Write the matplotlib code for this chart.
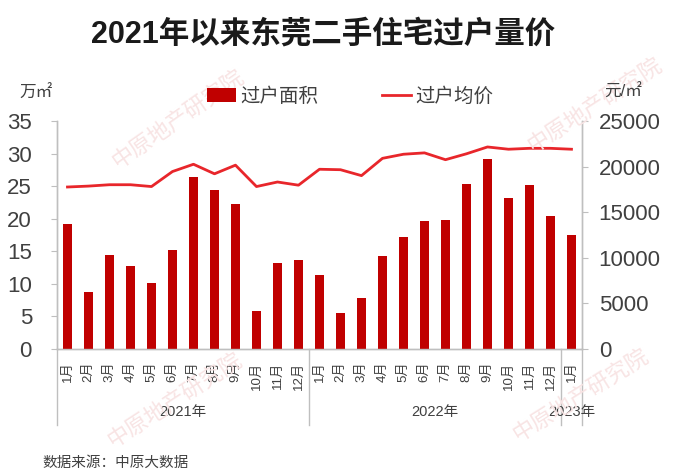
import matplotlib
matplotlib.use("Agg")
import matplotlib.pyplot as plt
from matplotlib.lines import Line2D
from matplotlib.patches import Patch
import matplotlib.transforms as mtransforms

plt.rcParams['font.family'] = ['Liberation Sans', 'Noto Sans CJK SC', 'DejaVu Sans']

# ---- data ----
months = ['1月', '2月', '3月', '4月', '5月', '6月', '7月', '8月', '9月', '10月', '11月', '12月',
          '1月', '2月', '3月', '4月', '5月', '6月', '7月', '8月', '9月', '10月', '11月', '12月',
          '1月']
years = ['2021年', '2022年', '2023年']
year_counts = [12, 12, 1]
area = [19.3, 8.8, 14.4, 12.8, 10.1, 15.2, 26.4, 24.5, 22.3, 5.8, 13.3, 13.7,
        11.4, 5.5, 7.8, 14.3, 17.2, 19.7, 19.8, 25.4, 29.3, 23.3, 25.3, 20.5,
        17.6]
price = [17800, 17900, 18050, 18050, 17850, 19500, 20300, 19250, 20200, 17850, 18350, 18000,
         19750, 19700, 19050, 20950, 21400, 21550, 20800, 21450, 22200, 21950, 22050, 22050,
         21950]

title = '2021年以来东莞二手住宅过户量价'
legend_labels = ['过户面积', '过户均价']
left_unit = '万㎡'
right_unit = '元/㎡'
source = '数据来源：中原大数据'
watermark = '中原地产研究院'

bar_color = '#C00000'
line_color = '#E8262B'
text_color = '#404040'
axis_color = '#BFBFBF'

fig = plt.figure(figsize=(7.0, 4.76), dpi=100)
fig.patch.set_facecolor('white')

# watermarks
for (wx, wy, rot) in [(0.255, 0.75, 35), (0.85, 0.78, 33), (0.25, 0.16, 33), (0.83, 0.17, 32)]:
    fig.text(wx, wy, watermark, fontsize=16, color='#F8E4E4', rotation=rot,
             ha='center', va='center', zorder=0, family=['Noto Sans CJK SC'])

ax = fig.add_axes([0.0814, 0.2668, 0.75, 0.478])
ax.patch.set_alpha(0)
ax2 = ax.twinx()

x = list(range(len(months)))
bars = ax.bar(x, area, width=0.42, color=bar_color, zorder=3)
line, = ax2.plot(x, price, color=line_color, lw=2.0, zorder=4)

ax.set_xlim(-0.5, len(months) - 0.5)
ax.set_ylim(0, 35)
ax.set_yticks(range(0, 36, 5))
ax2.set_ylim(0, 25000)
ax2.set_yticks(range(0, 25001, 5000))

for a in (ax, ax2):
    a.spines['top'].set_visible(False)
    for s in ('left', 'right', 'bottom'):
        a.spines[s].set_color(axis_color)
        a.spines[s].set_linewidth(1.0)

ax.tick_params(axis='y', labelsize=16, colors=axis_color, labelcolor=text_color,
               length=4, pad=14)
ax2.tick_params(axis='y', labelsize=16, colors=axis_color, labelcolor=text_color,
                length=4, pad=8)
ax.set_xticks(x)
ax.set_xticklabels(months, rotation=90, va='top', ha='center', fontsize=9.5, color=text_color)
ax.tick_params(axis='x', length=0, pad=9)

# group separators and year labels
trans = mtransforms.blended_transform_factory(ax.transData, ax.transAxes)
bounds = [-0.5]
for c in year_counts:
    bounds.append(bounds[-1] + c)
for b in bounds:
    ax.plot([b, b], [0, -0.335], transform=trans, color=axis_color, lw=1.0, clip_on=False)
for i, yl in enumerate(years):
    cx = (bounds[i] + bounds[i + 1]) / 2
    ax.text(cx, -0.275, yl, transform=trans, ha='center', va='center', fontsize=10.5,
            color=text_color)

# units
fig.text(0.028, 0.805, left_unit, fontsize=12, color=text_color, ha='left', va='center')
fig.text(0.863, 0.807, right_unit, fontsize=12, color=text_color, ha='left', va='center')

# title
fig.text(0.462, 0.927, title, fontsize=22, fontweight='bold', color='#1a1a1a',
         ha='center', va='center')

# legend
handles = [Patch(facecolor=bar_color), Line2D([0], [0], color=line_color, lw=2.0)]
fig.legend(handles, legend_labels, loc='center', bbox_to_anchor=(0.5, 0.797), ncol=2,
           frameon=False, fontsize=14, handlelength=1.5, handletextpad=0.2,
           columnspacing=3.3, labelcolor=text_color)

# source
fig.text(0.061, 0.027, source, fontsize=10.5, color=text_color, ha='left', va='center')

fig.savefig('out.png', dpi=100, facecolor='white')
